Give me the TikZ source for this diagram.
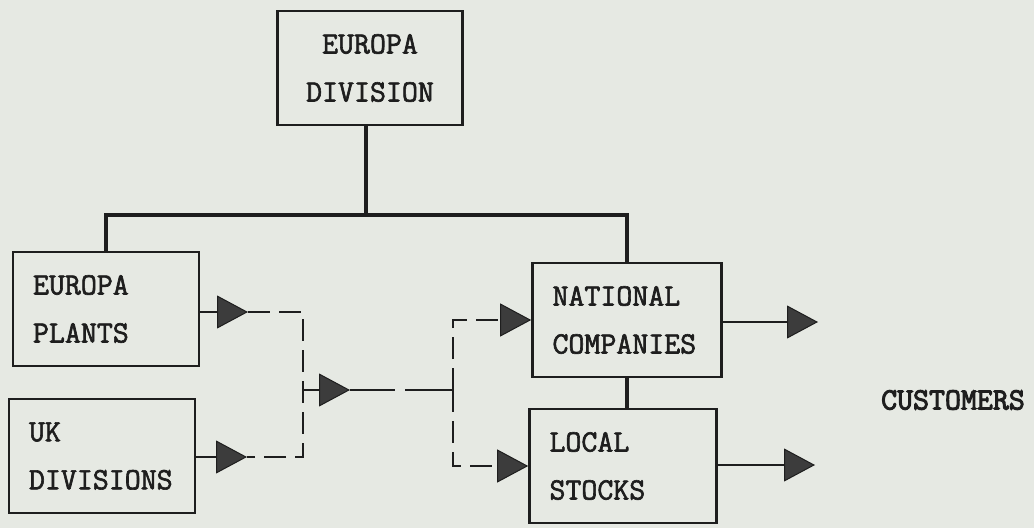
\documentclass[tikz,border=0pt]{standalone}
\usepackage{fontspec}
\newfontfamily\typewriter[FakeBold=2]{Latin Modern Mono}
\newfontfamily\typewriterheavy[FakeBold=3.2]{Latin Modern Mono}
\usepackage{tikz}
\usetikzlibrary{arrows.meta}

\begin{document}
\begin{tikzpicture}[x=1pt,y=-1pt,line cap=butt]
  % Colors
  \definecolor{paper}{RGB}{230,233,227}
  \definecolor{ink}{RGB}{30,30,30}
  \colorlet{headcolor}{ink!85!paper}

  % Styles
  \tikzstyle{box}=[draw=ink,line width=2.6pt,minimum height=114pt,text width=146pt,
                   inner xsep=20pt,align=left,text=ink,
                   font=\typewriter\fontsize{31}{48}\selectfont]
  \tikzstyle{tree line}=[draw=ink,line width=3.2pt]
  \tikzstyle{feed}=[draw=ink,line width=2.8pt]
  \tikzstyle{flow}=[draw=ink,line width=2.5pt,dash pattern=on 22pt off 9pt]
  \tikzstyle{head}=[-{Triangle[length=31pt,width=33pt,fill=headcolor,line width=1pt]}]

  % Paper
  \fill[paper] (0,0) rectangle (1034,528);

  % Boxes
  \node[box,align=center,text width=145pt] (euroDiv) at (370,68) {EUROPA\\DIVISION};
  \node[box] (euroPlants) at (106,309) {EUROPA\\PLANTS};
  \node[box] (ukDiv) at (102,456) {UK\\DIVISIONS};
  \node[box,text width=149pt] (natCo) at (627,320) {NATIONAL\\COMPANIES};
  \node[box,text width=147pt] (localStocks) at (623,466) {LOCAL\\STOCKS};
  \node[text=ink,font=\typewriterheavy\fontsize{31}{32}\selectfont] (customers) at (953,400) {CUSTOMERS};

  % Tree
  \coordinate (bus) at (366,215);
  \draw[tree line] (bus |- euroDiv.south) -- (bus);
  \draw[tree line] (euroPlants.north) |- (bus) -| (natCo.north);
  \draw[tree line] (natCo.south) -- (natCo.south |- localStocks.north);

  % Supplies into the merge
  \coordinate (plantTip) at (248,312);
  \coordinate (ukTip) at (247,457);
  \coordinate (merge) at (303,390);
  \coordinate (mergeTip) at (350,390);
  \coordinate (split) at (453,390);
  \draw[feed,head] (euroPlants.east |- plantTip) -- (plantTip);
  \draw[feed,head] (ukDiv.east |- ukTip) -- (ukTip);
  \draw[flow] (plantTip) -| (merge) |- (ukTip);
  \draw[feed,head] (merge) -- (mergeTip);
  \draw[feed,dash pattern=on 45pt off 10pt on 60pt off 0pt] (mergeTip) -- (split);

  % Split to the companies and the stocks
  \draw[flow,head] (split) |- (natCo.west);
  \draw[flow,head] (split) |- (localStocks.west);

  % Out to the customers
  \coordinate (natOut) at (818,322);
  \coordinate (stockOut) at (815,465);
  \draw[feed,head] (natCo.east |- natOut) -- (natOut);
  \draw[feed,head] (localStocks.east |- stockOut) -- (stockOut);
\end{tikzpicture}
\end{document}
